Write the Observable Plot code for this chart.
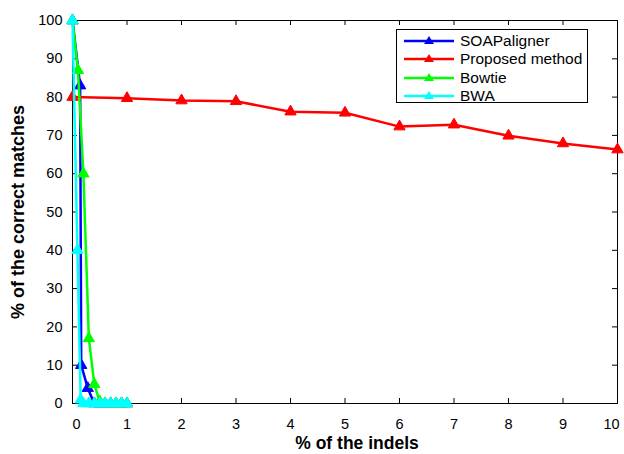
<!DOCTYPE html>
<html>
<head>
<meta charset="utf-8">
<script src="https://cdn.jsdelivr.net/npm/d3@7"></script>
<script src="https://cdn.jsdelivr.net/npm/@observablehq/plot@0.6"></script>
<style>
  html, body { margin: 0; padding: 0; background: #fff; }
  #wrap { position: relative; width: 624px; height: 454px; font-family: "Liberation Sans", Arial, sans-serif; }
  #legend { position: absolute; left: 396px; top: 29px; width: 192px; height: 74px; border: 1px solid #000; background: #fff; box-sizing: border-box; padding-top: 2px; }
  .row { display: flex; align-items: center; height: 18.3px; font-size: 15.5px; color: #000; }
  .row svg { margin-left: 7px; margin-right: 6px; }
</style>
</head>
<body>
<div id="wrap"><div id="legend"></div></div>
<script>
// ---- data ----
const seriesNames = ["SOAPaligner", "Proposed method", "Bowtie", "BWA"];
const seriesColors = ["#0000ff", "#ff0000", "#00ff00", "#00ffff"];

const soapX = [0, 0.14, 0.16, 0.28, 0.4, 0.5, 0.6, 0.7, 0.8, 0.9, 1.0];
const soapY = [100, 83, 10, 4, 0, 0, 0, 0, 0, 0, 0];

const proposedX = [0, 1, 2, 3, 4, 5, 6, 7, 8, 9, 10];
const proposedY = [80.0, 79.7, 79.1, 78.9, 76.2, 75.9, 72.3, 72.8, 69.9, 67.9, 66.3];

const bowtieX = [0, 0.1, 0.2, 0.3, 0.4, 0.5, 0.6, 0.7, 0.8, 0.9, 1.0];
const bowtieY = [100, 87, 60, 17, 5, 0.5, 0, 0, 0, 0, 0];

const bwaX = [0, 0.09, 0.15, 0.2, 0.3, 0.4, 0.5, 0.6, 0.7, 0.8, 0.9, 1.0];
const bwaY = [100, 40, 1, 0, 0, 0, 0, 0, 0, 0, 0, 0];

const xTicks = [0, 1, 2, 3, 4, 5, 6, 7, 8, 9, 10];
const yTicks = [0, 10, 20, 30, 40, 50, 60, 70, 80, 90, 100];

const xs = [soapX, proposedX, bowtieX, bwaX];
const ys = [soapY, proposedY, bowtieY, bwaY];

const W = 624, H = 454;
const mL = 72, mR = 7, mT = 20, mB = 51;
const innerW = W - mL - mR, innerH = H - mT - mB;

const marks = [];
// axes labels (no ticks); end labels nudged inward like the reference
const xMid = xTicks.slice(1, -1);
const axOpts = {anchor: "bottom", tickSize: 0, tickPadding: 15, fontSize: 14.5, label: null};
marks.push(Plot.axisX(xMid, axOpts));
marks.push(Plot.axisX(xTicks.slice(0, 1), {...axOpts, dx: 4}));
marks.push(Plot.axisX(xTicks.slice(-1), {...axOpts, dx: -6}));
marks.push(Plot.axisY(yTicks, {anchor: "left", tickSize: 0, tickPadding: 10, fontSize: 14.5, label: null}));
// inward ticks on all four sides
marks.push(Plot.tickX(xTicks, {x: d => d, insetTop: innerH - 5, stroke: "#000"}));
marks.push(Plot.tickX(xTicks, {x: d => d, insetBottom: innerH - 5, stroke: "#000"}));
marks.push(Plot.tickY(yTicks, {y: d => d, insetRight: innerW - 5, stroke: "#000"}));
marks.push(Plot.tickY(yTicks, {y: d => d, insetLeft: innerW - 5, stroke: "#000"}));
marks.push(Plot.frame({stroke: "#000", strokeWidth: 1}));

seriesNames.forEach((name, i) => {
  const data = xs[i].map((x, j) => ({x, y: ys[i][j]}));
  marks.push(Plot.line(data, {x: "x", y: "y", stroke: seriesColors[i], strokeWidth: 2.5}));
  marks.push(Plot.dot(data, {x: "x", y: "y", symbol: "triangle", r: 4.2, fill: seriesColors[i], stroke: seriesColors[i], strokeWidth: 1}));
});

const chart = Plot.plot({
  width: W, height: H,
  marginLeft: mL, marginRight: mR, marginTop: mT, marginBottom: mB,
  x: {domain: [0, 10]},
  y: {domain: [0, 100]},
  style: {fontFamily: "Liberation Sans, Arial, sans-serif", background: "#fff", color: "#000", overflow: "visible"},
  marks
});

// axis titles
const svg = d3.select(chart);
svg.append("text").attr("x", 357).attr("y", 449).attr("text-anchor", "middle")
  .attr("font-size", 17.5).attr("font-weight", "bold").attr("fill", "#000").text("% of the indels");
svg.append("text").attr("transform", "translate(24,212) rotate(-90)").attr("text-anchor", "middle")
  .attr("font-size", 18).attr("font-weight", "bold").attr("fill", "#000").text("% of the correct matches");

document.getElementById("wrap").prepend(chart);
chart.style.position = "absolute"; chart.style.left = "0"; chart.style.top = "0";

// legend
const leg = document.getElementById("legend");
seriesNames.forEach((name, i) => {
  const row = document.createElement("div");
  row.className = "row";
  row.innerHTML = `<svg width="50" height="12"><line x1="0" y1="6" x2="50" y2="6" stroke="${seriesColors[i]}" stroke-width="2.5"/><path d="M25,1 L30,9 L20,9 Z" fill="${seriesColors[i]}"/></svg><span>${name}</span>`;
  leg.appendChild(row);
});
</script>
</body>
</html>
